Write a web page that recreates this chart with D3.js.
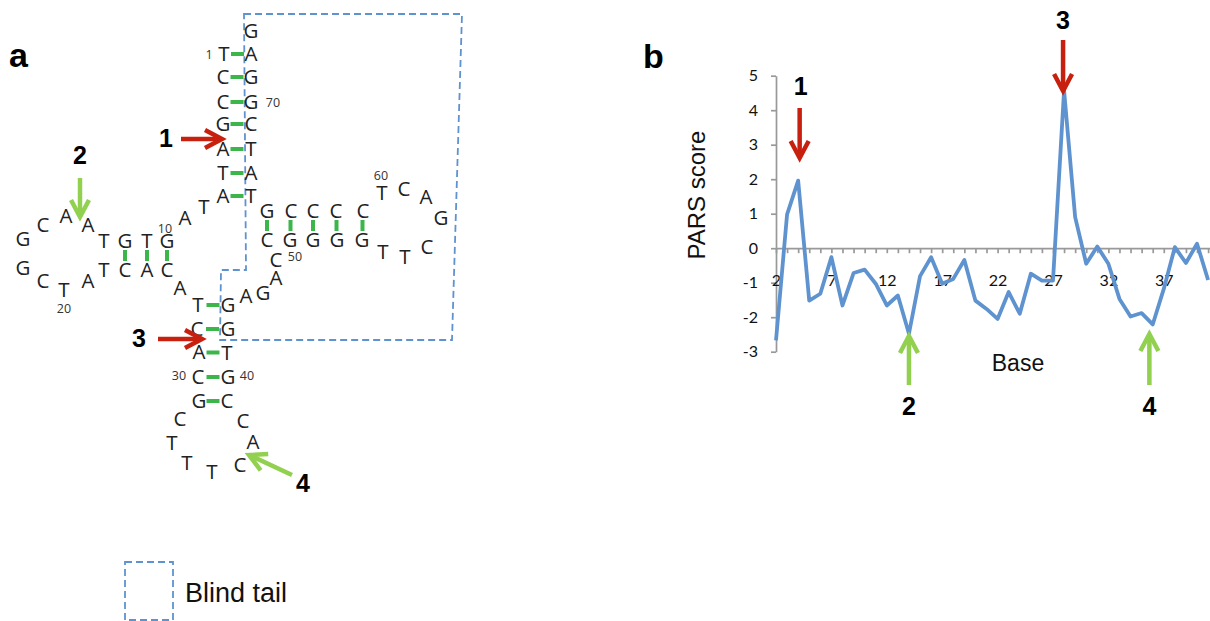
<!DOCTYPE html>
<html>
<head>
<meta charset="utf-8">
<script src="https://cdn.jsdelivr.net/npm/d3@7"></script>
<style>
  body { margin: 0; background: #fff; }
  svg { display: block; }
</style>
</head>
<body>
<svg id="fig" width="1210" height="621"></svg>
<script>
// ---- panel b data: PARS score per base ----
const bases = [2, 3, 4, 5, 6, 7, 8, 9, 10, 11, 12, 13, 14, 15, 16, 17, 18, 19, 20, 21,
  22, 23, 24, 25, 26, 27, 28, 29, 30, 31, 32, 33, 34, 35, 36, 37, 38, 39, 40, 41];
const parsScore = [-2.67, 0.98, 1.96, -1.52, -1.32, -0.26, -1.66, -0.72, -0.62, -1.03,
  -1.66, -1.37, -2.48, -0.81, -0.26, -1.03, -0.89, -0.34, -1.52, -1.76,
  -2.05, -1.27, -1.9, -0.74, -0.94, -0.94, 4.57, 0.9, -0.45, 0.05,
  -0.45, -1.47, -1.98, -1.88, -2.21, -1.18, 0.03, -0.43, 0.13, -0.92];
const xTickLabels = [2, 7, 12, 17, 22, 27, 32, 37];
const yTicks = [-3, -2, -1, 0, 1, 2, 3, 4, 5];

// ---- panel a data: sequence, base pairs, position numbers ----
const sequence = ["T", "C", "C", "G", "A", "T", "A", "T", "A", "G",
  "T", "G", "T", "A", "A", "C", "G", "G", "C", "T",
  "A", "T", "C", "A", "C", "A", "T", "C", "A", "C",
  "G", "C", "T", "T", "T", "C", "A", "C", "C", "G",
  "T", "G", "G", "A", "G", "A", "C", "C", "G", "G",
  "G", "G", "T", "T", "C", "G", "A", "C", "T", "C",
  "C", "C", "C", "G", "T", "A", "T", "C", "G", "G",
  "A", "G"];
// pairs by index into sequence (0-based)
const pairs = [[0, 70], [1, 69], [2, 68], [3, 67], [4, 66], [5, 65], [6, 64],
  [9, 24], [10, 23], [11, 22],
  [26, 42], [27, 41], [28, 40], [29, 39], [30, 38],
  [47, 63], [48, 62], [49, 61], [50, 60], [51, 59]];
const positionLabels = ["1", "10", "20", "30", "40", "50", "60", "70"];

// ---- layout of the drawing (pixel positions, not data) ----
const seqLayout = [
  [224, 54], [223, 77], [223, 102], [223, 124], [223, 149], [223, 173], [223, 196],
  [204, 207], [185, 218], [167, 241], [147, 241], [125, 241], [104, 241],
  [88, 225], [66, 216], [43, 225], [23, 239], [23, 268], [43, 281], [64, 290],
  [88, 281], [104, 270], [125, 270], [147, 270], [167, 270], [180, 288],
  [198, 305], [197, 329], [199, 352], [198, 377], [199, 401],
  [180, 419], [172, 443], [187, 463], [212, 472], [240, 465], [253, 442], [243, 421],
  [227, 401], [228, 377], [227, 353], [228, 329], [228, 305],
  [246, 296], [263, 293], [276, 278], [276, 260],
  [267, 240], [290, 240], [313, 240], [337, 240], [362, 240],
  [383, 252], [405, 257], [427, 247], [441, 218], [426, 197], [404, 189], [382, 193],
  [363, 211], [336, 211], [313, 211], [291, 211], [267, 211],
  [251, 196], [251, 173], [251, 149], [251, 124], [251, 102], [251, 77], [251, 54], [251, 31]];
const posLabelLayout = [[209, 54], [165, 228], [64, 308], [179, 375], [247, 375],
  [295, 256], [381, 175], [273, 102]];

const RED = "#c8200f", GREEN = "#92d050", BLUE = "#5f93cf", BOND = "#3cb54a";
const svg = d3.select("#fig");
svg.append("rect").attr("width", 1210).attr("height", 621).attr("fill", "#fff");

function arrow(g, x1, y1, x2, y2, color) {
  const a = Math.atan2(y2 - y1, x2 - x1), L = 17, W = 9;
  const bx = x2 - L * Math.cos(a), by = y2 - L * Math.sin(a);
  const nx = -Math.sin(a) * W, ny = Math.cos(a) * W;
  g.append("line").attr("x1", x1).attr("y1", y1)
    .attr("x2", x2 - 2 * Math.cos(a)).attr("y2", y2 - 2 * Math.sin(a))
    .attr("stroke", color).attr("stroke-width", 4.5);
  g.append("path")
    .attr("d", `M${bx + nx},${by + ny}L${x2},${y2}L${bx - nx},${by - ny}`)
    .attr("fill", "none").attr("stroke", color).attr("stroke-width", 4.5)
    .attr("stroke-linejoin", "miter");
}
function bigNum(g, txt, x, y) {
  g.append("text").attr("x", x).attr("y", y).attr("text-anchor", "middle")
    .attr("font-family", "Liberation Sans, Arial, sans-serif")
    .attr("font-weight", "bold").attr("font-size", 25).text(txt);
}

// ================= panel a =================
const ga = svg.append("g");
ga.append("text").attr("x", 9).attr("y", 67)
  .attr("font-family", "Liberation Sans, Arial, sans-serif")
  .attr("font-weight", "bold").attr("font-size", 34).text("a");

// blind tail region
ga.append("path")
  .attr("d", "M244,14L462,14L452,340L220,340L221,270L246,270Z")
  .attr("fill", "none").attr("stroke", BLUE).attr("stroke-width", 1.8)
  .attr("stroke-dasharray", "7,4");

// bonds
pairs.forEach(([i, j]) => {
  const p = seqLayout[i], q = seqLayout[j];
  let x1, y1, x2, y2;
  if (Math.abs(p[1] - q[1]) < 5) { // horizontal pair
    const cx = (p[0] + q[0]) / 2;
    x1 = cx - 6.5; x2 = cx + 6.5; y1 = y2 = (p[1] + q[1]) / 2;
  } else {
    const cy = (p[1] + q[1]) / 2;
    x1 = x2 = (p[0] + q[0]) / 2; y1 = cy - 5.5; y2 = cy + 5.5;
  }
  ga.append("line").attr("x1", x1).attr("y1", y1).attr("x2", x2).attr("y2", y2)
    .attr("stroke", BOND).attr("stroke-width", 4);
});

ga.selectAll("text.nt").data(sequence).join("text").attr("class", "nt")
  .attr("x", (d, i) => seqLayout[i][0]).attr("y", (d, i) => seqLayout[i][1])
  .attr("dy", "0.36em").attr("text-anchor", "middle")
  .attr("font-family", "Open Sans, sans-serif").attr("font-size", 20.5)
  .attr("fill", "#222").text(d => d);

ga.selectAll("text.pos").data(positionLabels).join("text").attr("class", "pos")
  .attr("x", (d, i) => posLabelLayout[i][0]).attr("y", (d, i) => posLabelLayout[i][1])
  .attr("dy", "0.36em").attr("text-anchor", "middle")
  .attr("font-family", "Open Sans, sans-serif").attr("font-size", 12.5)
  .attr("fill", "#333").text(d => d);

arrow(ga, 181, 139, 222, 139, RED);
arrow(ga, 158, 339, 202, 339, RED);
arrow(ga, 80, 178, 80, 217, GREEN);
arrow(ga, 292, 475, 249, 455, GREEN);
bigNum(ga, "1", 166, 147);
bigNum(ga, "2", 80, 164);
bigNum(ga, "3", 139, 347);
bigNum(ga, "4", 303, 492);

// legend
ga.append("rect").attr("x", 125).attr("y", 562).attr("width", 48).attr("height", 58)
  .attr("fill", "none").attr("stroke", BLUE).attr("stroke-width", 1.8)
  .attr("stroke-dasharray", "7,4");
ga.append("text").attr("x", 185).attr("y", 602)
  .attr("font-family", "Liberation Sans, Arial, sans-serif").attr("font-size", 27)
  .attr("fill", "#111").text("Blind tail");

// ================= panel b =================
const gb = svg.append("g");
gb.append("text").attr("x", 643).attr("y", 68)
  .attr("font-family", "Liberation Sans, Arial, sans-serif")
  .attr("font-weight", "bold").attr("font-size", 34).text("b");

const x = d3.scaleLinear().domain([2, 41]).range([776, 1208.1]);
const y = d3.scaleLinear().domain([-3, 5]).range([351.7, 75.7]);
const xAxisScale = x.copy().domain([2, 41.3]).range([776, x(41.3)]);

const yAxis = gb.append("g").attr("transform", `translate(${x(2)},0)`)
  .call(d3.axisLeft(y).tickValues(yTicks).tickSize(5).tickSizeOuter(0)
    .tickPadding(13).tickFormat(d => String(d)));
const xAxis = gb.append("g").attr("transform", `translate(0,${y(0)})`)
  .call(d3.axisBottom(xAxisScale).tickValues(bases).tickSize(5).tickSizeOuter(0)
    .tickPadding(21).tickFormat(d => xTickLabels.includes(d) ? String(d) : ""));
[yAxis, xAxis].forEach(ax => {
  ax.attr("font-family", "Lato, sans-serif").attr("font-size", 16);
  ax.selectAll("path, line").attr("stroke", "#999").attr("stroke-width", 1.7);
  ax.selectAll("text").attr("fill", "#111");
});

gb.append("path").datum(bases.map((b, i) => [b, parsScore[i]]))
  .attr("d", d3.line().x(d => x(d[0])).y(d => y(d[1])))
  .attr("fill", "none").attr("stroke", BLUE).attr("stroke-width", 3.8)
  .attr("stroke-linejoin", "round");

gb.append("text")
  .attr("transform", "translate(705,195) rotate(-90)").attr("text-anchor", "middle")
  .attr("font-family", "Liberation Sans, Arial, sans-serif").attr("font-size", 24)
  .attr("fill", "#111").text("PARS score");
gb.append("text").attr("x", 1018).attr("y", 371).attr("text-anchor", "middle")
  .attr("font-family", "Liberation Sans, Arial, sans-serif").attr("font-size", 23)
  .attr("fill", "#111").text("Base");

arrow(gb, x(4) + 1.5, 108, x(4) + 1.5, 158, RED);
arrow(gb, x(28) - 1, 40, x(28) - 1, 91, RED);
arrow(gb, x(14), 385, x(14), 336, GREEN);
arrow(gb, x(35.7), 385, x(35.7), 334, GREEN);
bigNum(gb, "1", x(4) + 2.5, 95);
bigNum(gb, "3", x(28) - 1, 29);
bigNum(gb, "2", x(14), 415);
bigNum(gb, "4", x(35.7), 415);
</script>
</body>
</html>
